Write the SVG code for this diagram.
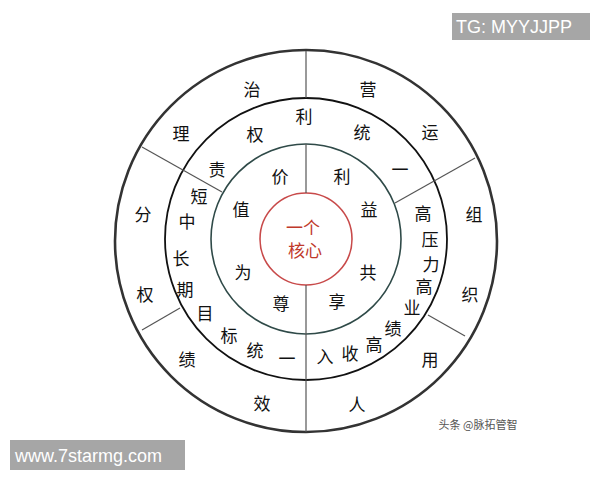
<svg xmlns="http://www.w3.org/2000/svg" width="600" height="480" viewBox="0 0 600 480">
<style>
.t{font-family:"Noto Sans CJK SC","Noto Sans",sans-serif;font-size:17px;fill:#111;text-anchor:middle;dominant-baseline:central}
.r{fill:#c0392b;font-size:17px}
.ring{fill:none}
.div{stroke:#555;stroke-width:1.2}
.lbl{font-family:"Liberation Sans",Arial,sans-serif;font-size:18px;fill:#fff}
</style>
<rect width="600" height="480" fill="#fff"/>
<g id="rings">
<circle id="outer" class="ring" cx="306" cy="241" r="191" stroke="#333" stroke-width="2.6"/>
<circle id="second" class="ring" cx="306" cy="239" r="141" stroke="#111" stroke-width="1.8"/>
<circle id="third" class="ring" cx="306" cy="239" r="95" stroke="#2f4a48" stroke-width="1.6"/>
<circle id="core" class="ring" cx="306" cy="239" r="46" stroke="#c84a4a" stroke-width="1.6"/>
</g>
<g id="connectors">
<line class="div" x1="306" y1="51" x2="306" y2="98"/>
<line class="div" x1="306" y1="144" x2="306" y2="193" stroke="#2f4a48"/>
<line class="div" x1="306" y1="285" x2="306" y2="432"/>
<line class="div" x1="222" y1="192" x2="142" y2="147"/>
<line class="div" x1="395" y1="203" x2="475" y2="158"/>
<line class="div" x1="180" y1="308" x2="142" y2="330"/>
<line class="div" x1="428" y1="315" x2="465" y2="336"/>
</g>
<g id="node-core">
<text class="t r" x="303" y="226">一个</text>
<text class="t r" x="305" y="249">核心</text>
</g>
<g id="node-inner">
<text class="t" x="280" y="175">价</text>
<text class="t" x="342" y="175">利</text>
<text class="t" x="241" y="208">值</text>
<text class="t" x="369" y="208">益</text>
<text class="t" x="243" y="271">为</text>
<text class="t" x="368" y="271">共</text>
<text class="t" x="281" y="302">尊</text>
<text class="t" x="337" y="300">享</text>
</g>
<g id="node-middle">
<text class="t" x="304" y="115">利</text>
<text class="t" x="255" y="133">权</text>
<text class="t" x="362" y="131">统</text>
<text class="t" x="217" y="168">责</text>
<text class="t" x="400" y="168">一</text>
<text class="t" x="199" y="195">短</text>
<text class="t" x="187" y="220">中</text>
<text class="t" x="181" y="257">长</text>
<text class="t" x="185" y="288">期</text>
<text class="t" x="205" y="312">目</text>
<text class="t" x="229" y="334">标</text>
<text class="t" x="255" y="349">统</text>
<text class="t" x="287" y="357">一</text>
<text class="t" x="325" y="355">入</text>
<text class="t" x="350" y="352">收</text>
<text class="t" x="374" y="343">高</text>
<text class="t" x="393" y="327">绩</text>
<text class="t" x="412" y="306">业</text>
<text class="t" x="424" y="285">高</text>
<text class="t" x="431" y="263">力</text>
<text class="t" x="430" y="238">压</text>
<text class="t" x="423" y="212">高</text>
</g>
<g id="node-outer">
<text class="t" x="252" y="88">治</text>
<text class="t" x="368" y="88">营</text>
<text class="t" x="181" y="132">理</text>
<text class="t" x="430" y="131">运</text>
<text class="t" x="143" y="213">分</text>
<text class="t" x="474" y="213">组</text>
<text class="t" x="145" y="293">权</text>
<text class="t" x="470" y="293">织</text>
<text class="t" x="187" y="358">绩</text>
<text class="t" x="430" y="358">用</text>
<text class="t" x="262" y="402">效</text>
<text class="t" x="357" y="403">人</text>
</g>
<g id="watermarks">
<rect x="452" y="13" width="138" height="27" fill="#a6a6a6"/>
<text class="lbl" x="456" y="33">TG: MYYJJPP</text>
<rect x="10" y="440" width="175" height="30" fill="#a6a6a6"/>
<text class="lbl" x="15" y="462">www.7starmg.com</text>
<text x="478" y="429" font-family="'Noto Sans CJK SC',sans-serif" font-size="11" fill="#555" text-anchor="middle">头条 @脉拓管智</text>
</g>
</svg>
